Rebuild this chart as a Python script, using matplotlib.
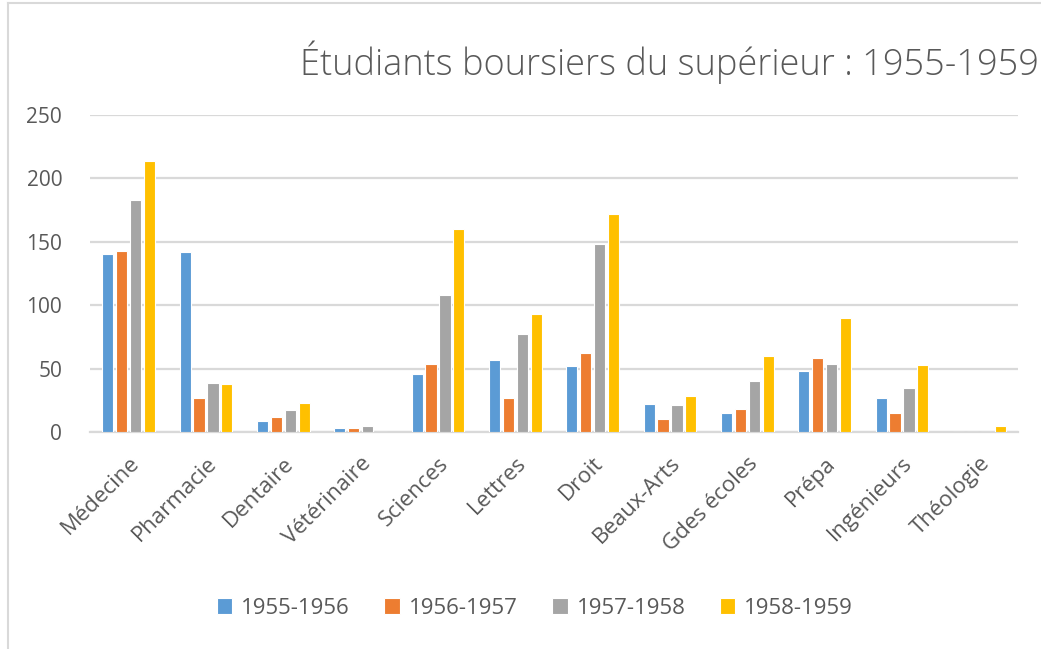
import matplotlib.pyplot as plt
import numpy as np
from matplotlib.lines import Line2D

# Data
categories = ["Médecine", "Pharmacie", "Dentaire", "Vétérinaire", "Sciences", "Lettres",
              "Droit", "Beaux-Arts", "Gdes écoles", "Prépa", "Ingénieurs", "Théologie"]
series_names = ["1955-1956", "1956-1957", "1957-1958", "1958-1959"]
v_1955 = [140, 142, 9, 3, 46, 57, 52, 22, 15, 48, 27, 0]
v_1956 = [143, 27, 12, 3, 54, 27, 62, 10, 18, 58, 15, 0]
v_1957 = [183, 39, 17, 5, 108, 77, 148, 21, 40, 54, 35, 0]
v_1958 = [214, 38, 23, 0, 160, 93, 172, 28, 60, 90, 53, 5]
colors = ["#5B9BD5", "#ED7D31", "#A5A5A5", "#FFC000"]

plt.rcParams['font.family'] = ['Open Sans', 'DejaVu Sans']
text_col = "#595959"
grid_col = "#D9D9D9"

fig = plt.figure(figsize=(10.41, 6.49), dpi=100)
ax = fig.add_axes([90 / 1041, 1 - 432 / 649, 928 / 1041, 317 / 649])

x = np.arange(len(categories))
width = 0.145
step = 0.18
for i, (vals, name) in enumerate(zip([v_1955, v_1956, v_1957, v_1958], series_names)):
    ax.bar(x + (i - 1.5) * step, vals, width, color=colors[i], label=name,
           edgecolor="white", linewidth=0.8, zorder=3)

ax.set_xlim(-0.5, len(categories) - 0.5)
ax.set_ylim(0, 250)
ax.set_yticks(range(0, 251, 50))
ax.grid(axis='y', color=grid_col, linewidth=1.6, zorder=0)
for s in ['top', 'right', 'left']:
    ax.spines[s].set_visible(False)
ax.spines['bottom'].set_color(grid_col)
ax.spines['bottom'].set_linewidth(1.6)
ax.tick_params(axis='both', length=0, colors=text_col, labelsize=15)
ax.tick_params(axis='y', pad=20)
ax.set_xticks(x)
ax.set_xticklabels(categories, rotation=45, ha='right', va='top', rotation_mode='anchor',
                   fontsize=16)
ax.tick_params(axis='x', pad=15)
for lab in ax.get_xticklabels():
    lab.set_color(text_col)

fig.text(300 / 1041, 1 - 62 / 649, "Étudiants boursiers du supérieur : 1955-1959",
         fontsize=26, color=text_col, ha='left', va='center', fontweight='light')

leg = fig.legend(loc='center', bbox_to_anchor=(535 / 1041, 1 - 608 / 649), ncol=4,
                 frameon=False, fontsize=16, handlelength=0.7, handleheight=0.7,
                 handletextpad=0.4, columnspacing=1.55, labelcolor=text_col)

# chart border (light gray)
fig.add_artist(Line2D([8 / 1041, 8 / 1041], [0, 1 - 3 / 649], transform=fig.transFigure,
                      color=grid_col, linewidth=1.5))
fig.add_artist(Line2D([8 / 1041, 1], [1 - 3 / 649, 1 - 3 / 649], transform=fig.transFigure,
                      color=grid_col, linewidth=1.5))

fig.savefig("out.png", dpi=100)
